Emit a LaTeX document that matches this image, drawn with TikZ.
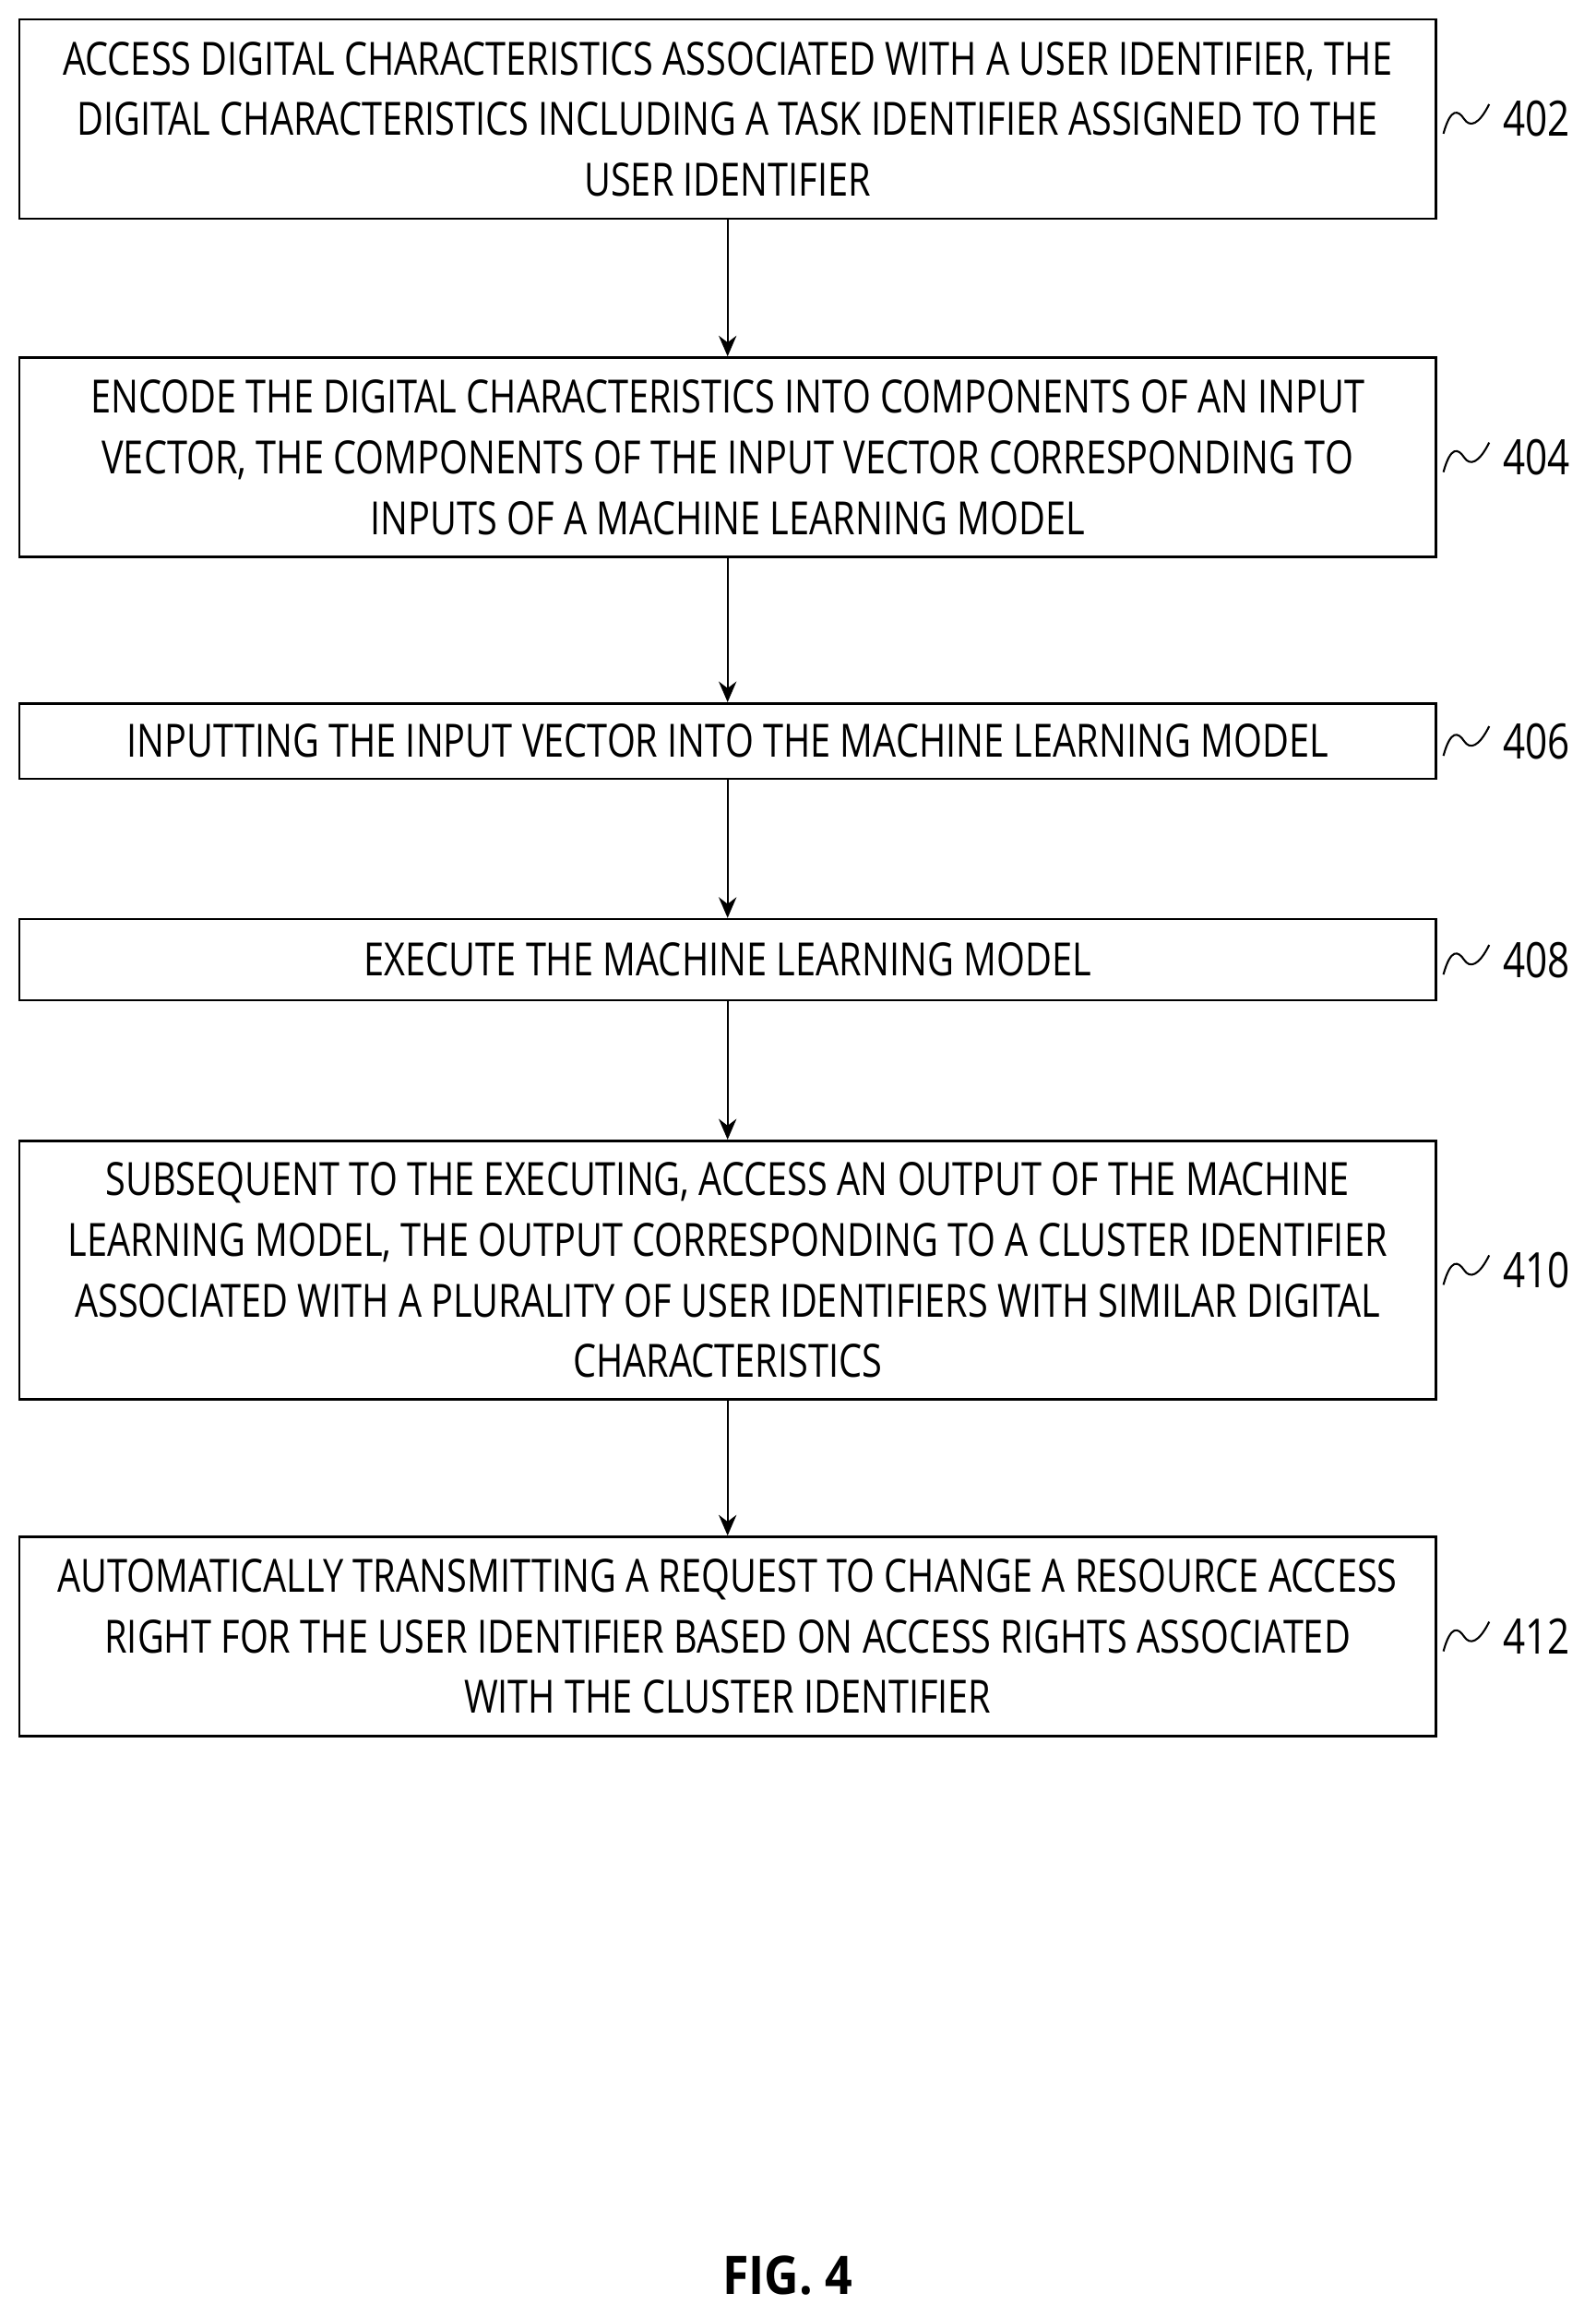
\documentclass[tikz,border=0pt]{standalone}
\usepackage{fontspec}
\setmainfont{Open Sans}[FakeStretch=0.80]
\newfontfamily\figfont{Open Sans}[FakeStretch=0.9]
\usetikzlibrary{arrows.meta}
\begin{document}
\begin{tikzpicture}[x=1pt,y=-1pt,
  box/.style={draw,line width=1.6pt,minimum width=959pt,inner sep=0pt,align=center,font=\fontsize{31}{41}\selectfont},
  arr/.style={line width=1.4pt,-{Stealth[length=14pt,width=12pt]}},
  lab/.style={font=\fontsize{33}{38}\selectfont,anchor=west}]
\useasboundingbox (0,0) rectangle (1080,1568);
\newcommand{\stepbox}[5]{%
  \node[box,minimum height=#3-#2] (#1) at (492.5,{(#2+#3)/2}) {#4};
  \draw[line width=1.3pt] (977,{(#2+#3)/2+10}) .. controls (982,{(#2+#3)/2-8}) and (987,{(#2+#3)/2-6}) .. (991,{(#2+#3)/2}) .. controls (995,{(#2+#3)/2+6}) and (1001,{(#2+#3)/2+4}) .. (1008,{(#2+#3)/2-10});
  \node[lab] (l#1) at (1014,{(#2+#3)/2}) {#5};}
\stepbox{a}{13}{148}{ACCESS DIGITAL CHARACTERISTICS ASSOCIATED WITH A USER IDENTIFIER, THE\\DIGITAL CHARACTERISTICS INCLUDING A TASK IDENTIFIER ASSIGNED TO THE\\USER IDENTIFIER}{402}
\stepbox{b}{242}{377}{ENCODE THE DIGITAL CHARACTERISTICS INTO COMPONENTS OF AN INPUT\\VECTOR, THE COMPONENTS OF THE INPUT VECTOR CORRESPONDING TO\\INPUTS OF A MACHINE LEARNING MODEL}{404}
\stepbox{c}{476}{527}{INPUTTING THE INPUT VECTOR INTO THE MACHINE LEARNING MODEL}{406}
\stepbox{d}{622}{677}{EXECUTE THE MACHINE LEARNING MODEL}{408}
\stepbox{e}{772}{947}{SUBSEQUENT TO THE EXECUTING, ACCESS AN OUTPUT OF THE MACHINE\\LEARNING MODEL, THE OUTPUT CORRESPONDING TO A CLUSTER IDENTIFIER\\ASSOCIATED WITH A PLURALITY OF USER IDENTIFIERS WITH SIMILAR DIGITAL\\CHARACTERISTICS}{410}
\stepbox{f}{1040}{1175}{AUTOMATICALLY TRANSMITTING A REQUEST TO CHANGE A RESOURCE ACCESS\\RIGHT FOR THE USER IDENTIFIER BASED ON ACCESS RIGHTS ASSOCIATED\\WITH THE CLUSTER IDENTIFIER}{412}
\draw[arr] (a) -- (b);
\draw[arr] (b) -- (c);
\draw[arr] (c) -- (d);
\draw[arr] (d) -- (e);
\draw[arr] (e) -- (f);
\node[font=\figfont\bfseries\fontsize{36}{40}\selectfont] (fig) at (533,1540) {FIG. 4};
\end{tikzpicture}
\end{document}
